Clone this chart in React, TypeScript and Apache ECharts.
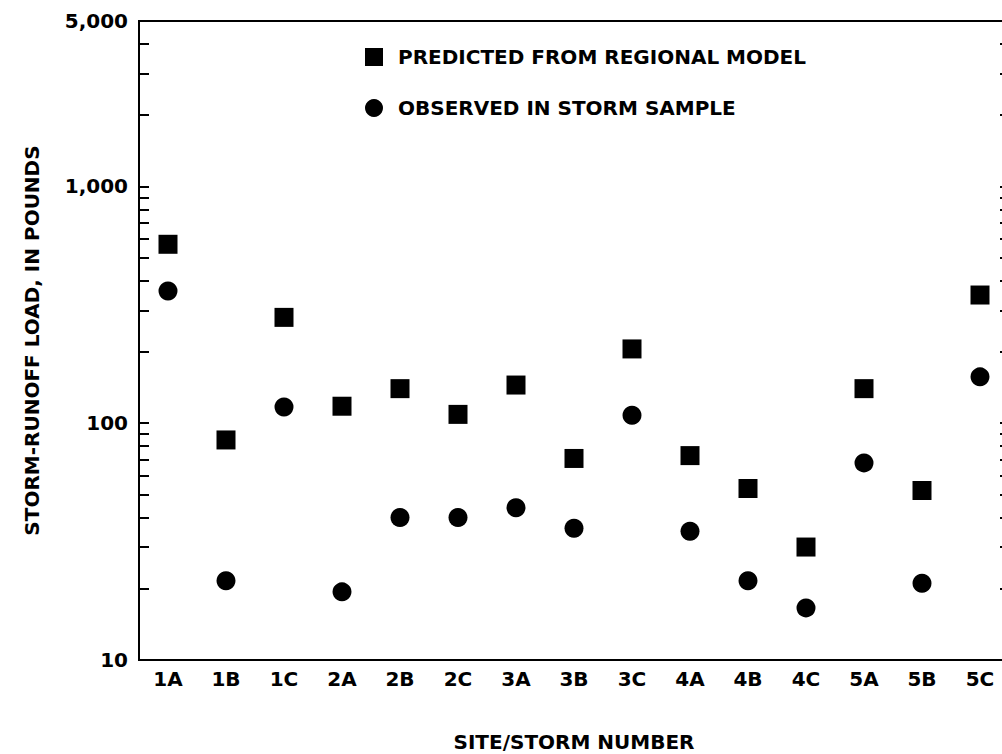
import React, { useEffect, useRef } from "react";
import * as echarts from "echarts";

const categories = ["1A", "1B", "1C", "2A", "2B", "2C", "3A", "3B", "3C", "4A", "4B", "4C", "5A", "5B", "5C"];
const predicted = [570, 85, 280, 118, 140, 109, 145, 71, 206, 73, 53, 30, 140, 52, 348];
const observed = [362, 21.6, 117, 19.4, 40, 40, 44, 36, 108, 35, 21.6, 16.6, 68, 21.1, 157];
const yLabelValues = [10, 100, 1000, 5000];
const yTickValues = [10, 20, 30, 40, 50, 60, 70, 80, 90, 100, 200, 300, 400, 500, 600, 700, 800, 900, 1000, 2000, 3000, 4000, 5000];

const FONT = "DejaVu Sans";

export default function App() {
  const ref = useRef<HTMLDivElement>(null);
  useEffect(() => {
    if (!ref.current) return;
    const chart = echarts.init(ref.current, null, { renderer: "svg" });
    const axisLine = { show: true, lineStyle: { color: "#000", width: 2 } };
    chart.setOption({
      animation: false,
      backgroundColor: "#fff",
      textStyle: { fontFamily: FONT },
      grid: {
        left: 139,
        top: 21,
        width: 870,
        height: 639,
        show: true,
        borderColor: "#000",
        borderWidth: 2,
        containLabel: false,
        outerBoundsMode: "none",
      },
      legend: {
        orient: "vertical",
        left: 360,
        top: 42,
        itemWidth: 18,
        itemHeight: 18,
        itemGap: 31,
        textStyle: { fontFamily: FONT, fontWeight: "bold", fontSize: 20, color: "#000", padding: [0, 0, 0, 10] },
        data: [
          { name: "PREDICTED FROM REGIONAL MODEL", icon: "rect" },
          { name: "OBSERVED IN STORM SAMPLE", icon: "circle" },
        ],
      },
      xAxis: {
        type: "category",
        data: categories,
        boundaryGap: true,
        axisLine,
        axisTick: { show: false },
        splitLine: { show: false },
        axisLabel: { color: "#000", fontFamily: FONT, fontWeight: "bold", fontSize: 20, margin: 9 },
        name: "SITE/STORM NUMBER",
        nameLocation: "middle",
        nameGap: 72,
        nameTextStyle: { color: "#000", fontFamily: FONT, fontWeight: "bold", fontSize: 20 },
      },
      yAxis: [
        {
          type: "log",
          logBase: 10,
          min: 10,
          max: 5000,
          position: "left",
          axisLine,
          splitLine: { show: false },
          axisTick: { show: true, inside: true, length: 10, customValues: yTickValues, lineStyle: { color: "#000", width: 2 } },
          axisLabel: {
            customValues: yLabelValues,
            color: "#000",
            fontFamily: FONT,
            fontWeight: "bold",
            fontSize: 20,
            margin: 11,
            formatter: (v: number) => Math.round(v).toLocaleString("en-US"),
          },
          name: "STORM-RUNOFF LOAD, IN POUNDS",
          nameLocation: "middle",
          nameGap: 97,
          nameTextStyle: { color: "#000", fontFamily: FONT, fontWeight: "bold", fontSize: 20 },
        },
        {
          type: "log",
          logBase: 10,
          min: 10,
          max: 5000,
          position: "right",
          axisLine,
          splitLine: { show: false },
          axisTick: { show: true, inside: true, length: 9, customValues: yTickValues, lineStyle: { color: "#000", width: 2 } },
          axisLabel: { show: false },
        },
      ],
      series: [
        {
          name: "PREDICTED FROM REGIONAL MODEL",
          type: "scatter",
          symbol: "rect",
          symbolSize: 19,
          itemStyle: { color: "#000", opacity: 1 },
          data: predicted,
        },
        {
          name: "OBSERVED IN STORM SAMPLE",
          type: "scatter",
          symbol: "circle",
          symbolSize: 19,
          itemStyle: { color: "#000", opacity: 1 },
          data: observed,
        },
      ],
    });
    return () => chart.dispose();
  }, []);
  return <div ref={ref} style={{ position: "absolute", left: 0, top: 0, width: 1002, height: 754 }} />;
}
